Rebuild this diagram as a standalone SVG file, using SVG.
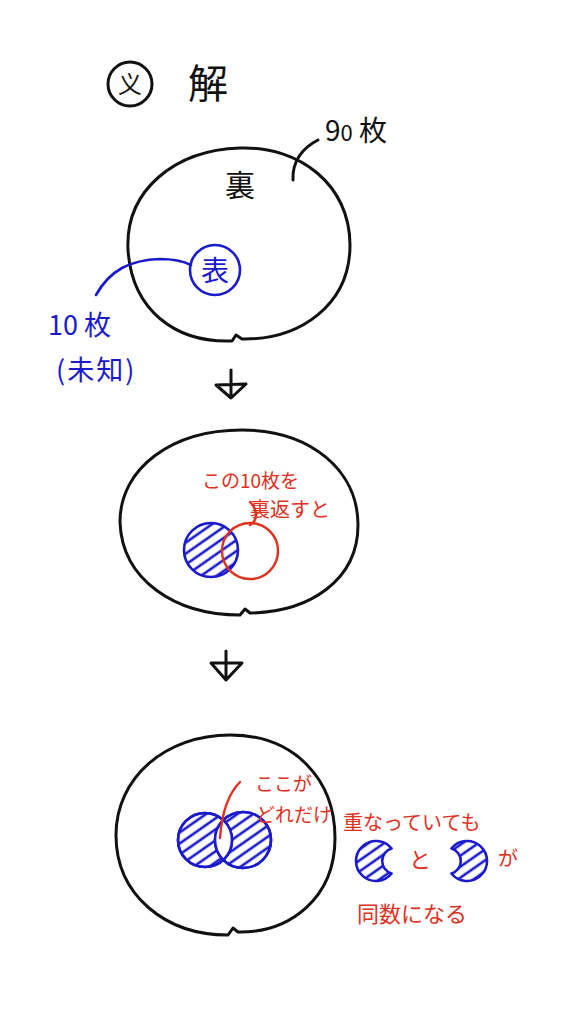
<svg xmlns="http://www.w3.org/2000/svg" width="574" height="1024" viewBox="0 0 574 1024">
<style>
.k{fill:none;stroke:#111;stroke-width:3;stroke-linecap:round;stroke-linejoin:round}
.b{fill:none;stroke:#1a1acc;stroke-width:2.6;stroke-linecap:round}
.r{fill:none;stroke:#e0301e;stroke-width:2.4;stroke-linecap:round}
.tk{font-family:"Noto Sans CJK JP","Noto Sans",sans-serif;fill:#111}
.tb{font-family:"Noto Sans CJK JP","Noto Sans",sans-serif;fill:#1a1acc}
.tr{font-family:"Noto Sans CJK JP","Noto Sans",sans-serif;fill:#e0301e}
.h{fill:url(#hatch);stroke:#1a1acc;stroke-width:2.6;stroke-linejoin:round}
</style>
<defs>
<pattern id="hatch" patternUnits="userSpaceOnUse" width="9" height="9" patternTransform="rotate(-35)">
<line x1="0" y1="2" x2="9" y2="2" stroke="#1a1acc" stroke-width="2.6"/>
</pattern>
</defs>
<rect width="574" height="1024" fill="#fff"/>

<g id="title">
<circle class="k" cx="130" cy="84" r="22"/>
<text class="tk" x="130" y="93" font-size="24" text-anchor="middle">义</text>
<text class="tk" x="208" y="98" font-size="40" text-anchor="middle">解</text>
</g>

<g id="stage1">
<path class="k" d="M240,148 C300,146 350,185 350,245 C350,305 300,340 242,339 L236,335 L232,341 C175,343 132,310 128,250 C125,190 175,150 240,148 Z"/>
<text class="tk" x="240" y="196" font-size="30" text-anchor="middle">裏</text>
<text class="tk" x="325" y="141" font-size="28">9<tspan font-size="22">0</tspan> 枚</text>
<path class="k" d="M318,140 C302,148 292,162 293,180"/>
</g>

<g id="omote">
<circle class="b" cx="215" cy="270" r="25"/>
<text class="tb" x="215" y="281" font-size="28" text-anchor="middle">表</text>
</g>

<g id="label10">
<text class="tb" x="48" y="335" font-size="27">10 枚</text>
<text class="tb" x="56" y="380" font-size="27" letter-spacing="2">(未知)</text>
</g>

<g id="stage2">
<path class="k" d="M242,430 C310,430 358,470 358,525 C358,580 310,612 250,613 L245,609 L240,615 C175,615 122,580 120,522 C120,468 172,430 242,430 Z"/>
<circle class="h" cx="211" cy="550" r="27"/>
<circle class="r" cx="250" cy="551" r="28"/>
<text class="tr" x="202" y="488" font-size="19">この10枚を</text>
<text class="tr" x="250" y="517" font-size="20">裏返すと</text>
<path class="r" d="M250,502 C258,510 258,520 250,525"/>
</g>

<g id="stage3">
<path class="k" d="M230,735 C295,735 335,780 335,838 C335,898 290,933 238,932 L233,928 L228,935 C165,935 116,895 116,835 C116,778 165,735 230,735 Z"/>
<circle class="h" cx="205" cy="840" r="27"/>
<circle class="h" cx="243" cy="840" r="28"/>
<path d="M223.3,820.2 A27,27 0 0 1 223.3,859.8 A28,28 0 0 1 223.3,820.2 Z" fill="#fff"/>
<circle class="b" cx="205" cy="840" r="27"/>
<circle class="b" cx="243" cy="840" r="28"/>
<path class="r" d="M240,782 C230,792 222,810 220,838"/>
<text class="tr" x="255" y="791" font-size="19">ここが</text>
<text class="tr" x="256" y="822" font-size="19">どれだけ</text>
<text class="tr" x="343" y="830" font-size="20">重なっていても</text>
</g>

<g id="moons">
<path class="h" d="M391.6,848.5 A20,20 0 1 0 391.6,873.5 A13,13 0 0 1 391.6,848.5 Z"/>
<path class="h" d="M451.4,848.5 A20,20 0 1 1 451.4,873.5 A13,13 0 0 0 451.4,848.5 Z"/>
<text class="tr" x="420" y="868" font-size="22" text-anchor="middle">と</text>
<text class="tr" x="498" y="866" font-size="20">が</text>
<text class="tr" x="357" y="922" font-size="22">同数になる</text>
</g>

<g id="connectors">
<path class="b" d="M96,295 C110,270 130,260 160,259 C175,259 185,262 191,265"/>
<path class="k" d="M231,370 L231,397 M216,385 L246,384 L231,398 Z"/>
<path class="k" d="M226,651 L226,680 M211,663 L242,663 L226,680 Z"/>
</g>
</svg>
